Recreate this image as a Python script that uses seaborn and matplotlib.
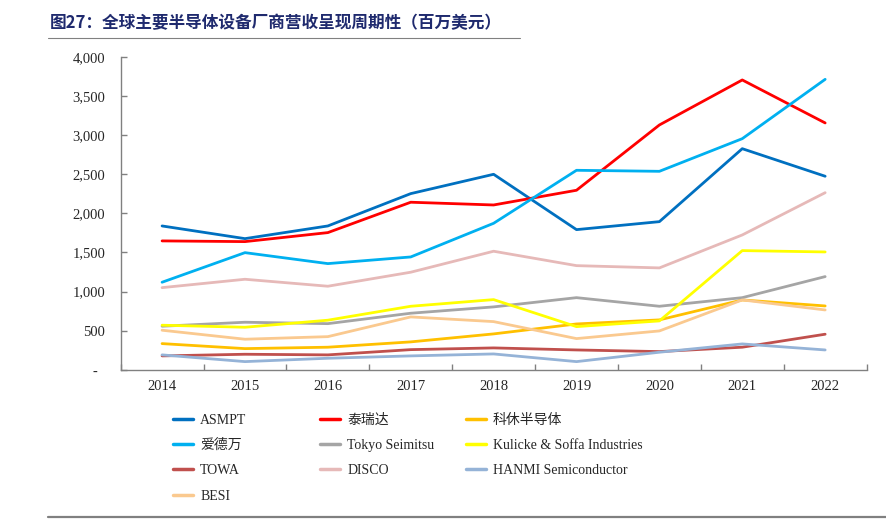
import numpy as np
import pandas as pd
import matplotlib
matplotlib.use("Agg")
import matplotlib.pyplot as plt
from matplotlib.lines import Line2D
from matplotlib.ticker import FuncFormatter, FixedLocator
import seaborn as sns

# ─────────────────────────────────────────────
#  DATA (million USD)
# ─────────────────────────────────────────────
years = [2014, 2015, 2016, 2017, 2018, 2019, 2020, 2021, 2022]

asmpt    = [1839, 1677, 1839, 2252, 2499, 1792, 1894, 2826, 2474]
teradyne = [1648, 1639, 1754, 2142, 2107, 2295, 3129, 3704, 3155]
cohu     = [336, 272, 290, 358, 460, 587, 639, 894, 817]
advantest = [1120, 1498, 1358, 1443, 1873, 2550, 2537, 2954, 3712]
tokyo    = [558, 609, 591, 724, 805, 923, 813, 923, 1192]
kns      = [571, 545, 635, 813, 898, 553, 626, 1524, 1507]
towa     = [179, 200, 192, 259, 281, 255, 234, 290, 456]
disco    = [1051, 1158, 1069, 1248, 1516, 1332, 1303, 1724, 2264]
hanmi    = [192, 106, 149, 179, 204, 106, 226, 332, 255]
besi     = [507, 392, 425, 677, 617, 400, 498, 894, 766]

names = ["ASMPT", "泰瑞达", "科休半导体", "爱德万", "Tokyo Seimitsu",
         "Kulicke & Soffa Industries", "TOWA", "DISCO",
         "HANMI Semiconductor", "BESI"]
series = [asmpt, teradyne, cohu, advantest, tokyo, kns, towa, disco, hanmi, besi]
colors = ["#0070C0", "#FF0000", "#FFC000", "#00B0F0", "#A5A5A5",
          "#FFFF00", "#C0504D", "#E6B9B8", "#95B3D7", "#FAC98F"]

# ─────────────────────────────────────────────
#  THEME
# ─────────────────────────────────────────────
sns.set_theme(style="white")
FONTS = ["Liberation Serif", "Noto Sans CJK SC"]
plt.rcParams["font.family"] = FONTS

rows = []
for name, vals in zip(names, series):
    for y, v in zip(years, vals):
        rows.append({"year": y, "company": name, "value": v})
df = pd.DataFrame(rows)
df["pos"] = df["year"] - years[0]

fig = plt.figure(figsize=(8.87, 5.21), dpi=100)
ax = fig.add_axes([0.136, 0.290, 0.841, 0.601])

sns.lineplot(data=df, x="pos", y="value", hue="company", hue_order=names,
             palette=colors, linewidth=2, ax=ax, legend=False)

ax.set_xlim(-0.5, len(years) - 0.5)
ax.set_ylim(0, 4000)
ax.set_xlabel("")
ax.set_ylabel("")

# category labels centred, tick marks on category boundaries (pointing in)
ax.xaxis.set_major_locator(FixedLocator(np.arange(len(years))))
ax.set_xticklabels([str(y) for y in years], fontsize=10.5)
ax.xaxis.set_minor_locator(FixedLocator(np.arange(-0.5, len(years), 1.0)))
ax.tick_params(axis="x", which="major", bottom=True, length=0, pad=7.5)
ax.tick_params(axis="x", which="minor", bottom=True, length=4, width=1,
               color="#808080", direction="in")
ax.set_yticks(np.arange(0, 4001, 500))
ax.yaxis.set_major_formatter(FuncFormatter(lambda v, _: "-  " if v == 0 else f"{int(v):,}"))
ax.tick_params(axis="y", left=True, length=4, width=1, color="#808080",
               direction="in", labelsize=10.5, pad=11)

for side in ["top", "right"]:
    ax.spines[side].set_visible(False)
for side in ["left", "bottom"]:
    ax.spines[side].set_color("#808080")
    ax.spines[side].set_linewidth(1)

# legend: three equal-width columns, filled row by row
col_x = [0.195, 0.361, 0.525]
for c in range(3):
    idx = list(range(c, len(names), 3))
    handles = [Line2D([], [], color=colors[i], lw=2.5) for i in idx]
    fig.legend(handles, [names[i] for i in idx], loc="upper left",
               bbox_to_anchor=(col_x[c], 0.206), frameon=False,
               borderpad=0, borderaxespad=0,
               handlelength=1.45, handletextpad=0.5, labelspacing=0.88,
               prop={"family": FONTS, "size": 10})

# title and rules
fig.text(0.056, 0.955, "图27：全球主要半导体设备厂商营收呈现周期性（百万美元）",
         fontsize=12, fontweight="bold", color="#1F2A6E", va="center",
         family=["Noto Sans CJK SC", "DejaVu Sans"])
fig.add_artist(Line2D([0.054, 0.586], [0.928, 0.928], color="#808080", lw=0.8))
fig.add_artist(Line2D([0.054, 1.0], [0.008, 0.008], color="#808080", lw=1.6))

fig.savefig("out.png", dpi=100)
